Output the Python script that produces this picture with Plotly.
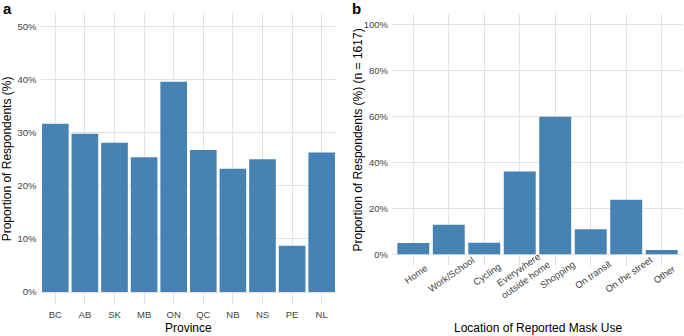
import plotly.graph_objects as go

provinces = ["BC", "AB", "SK", "MB", "ON", "QC", "NB", "NS", "PE", "NL"]
province_pct = [31.7, 29.8, 28.1, 25.4, 39.6, 26.75, 23.2, 25.0, 8.7, 26.3]

locations = ["Home", "Work/School", "Cycling", "Everywhere<br>outside home",
             "Shopping", "On transit", "On the street", "Other"]
location_pct = [4.9, 12.9, 5.1, 36.1, 60.0, 10.9, 23.8, 1.9]

a_ticks = [0, 10, 20, 30, 40, 50]
a_ticktext = ["0%", "10%", "20%", "30%", "40%", "50%"]
b_ticks = [0, 20, 40, 60, 80, 100]
b_ticktext = ["0%", "20%", "40%", "60%", "80%", "100%"]

W, H = 684, 336
BAR = "#4682B4"
GRID = "#E3E3E3"
TICKC = "#444444"
FONT = "Liberation Sans, Arial, sans-serif"

fig = go.Figure()
fig.add_trace(go.Bar(x=provinces, y=province_pct, marker_color=BAR,
                     marker_line_width=0, xaxis="x", yaxis="y", showlegend=False))
fig.add_trace(go.Bar(x=list(range(len(locations))), y=location_pct, marker_color=BAR,
                     marker_line_width=0, xaxis="x2", yaxis="y2", showlegend=False))

ax_common = dict(showgrid=True, gridcolor=GRID, gridwidth=1, zeroline=False,
                 showline=False, ticks="", automargin=False,
                 tickfont=dict(size=9.5, color=TICKC, family=FONT))

def px(x):
    return x / W

def py(y):
    return 1 - y / H

fig.update_layout(
    width=W, height=H,
    margin=dict(l=0, r=0, t=0, b=0),
    paper_bgcolor="white", plot_bgcolor="white",
    bargap=0.1,
    font=dict(family=FONT, color="black"),
    xaxis=dict(domain=[px(40.5), px(336.5)], anchor="y", **ax_common,
               ticklabelstandoff=2),
    yaxis=dict(domain=[py(305.3), py(13.3)], anchor="x", range=[-2.5, 52.5],
               tickvals=a_ticks, ticktext=a_ticktext, ticklabelstandoff=3, **ax_common),
    xaxis2=dict(domain=[px(392), px(683)], anchor="y2", range=[-0.6, 7.6],
                tickvals=list(range(len(locations))), showticklabels=False, **ax_common),
    yaxis2=dict(domain=[py(265.8), py(13.5)], anchor="x2", range=[-5, 105],
                tickvals=b_ticks, ticktext=b_ticktext, ticklabelstandoff=3, **ax_common),
)

ann = []
# rotated category labels for panel b
for i, lab in enumerate(locations):
    ann.append(dict(x=i, y=py(274), xref="x2", yref="paper", text=lab,
                    showarrow=False, textangle=-35, xanchor="center", yanchor="middle",
                    xshift=2, font=dict(size=9.5, color=TICKC, family=FONT)))
# axis titles
ann += [
    dict(x=px(188.5), y=py(328), xref="paper", yref="paper", text="Province",
         showarrow=False, xanchor="center", yanchor="middle", font=dict(size=12)),
    dict(x=px(537.5), y=py(328), xref="paper", yref="paper",
         text="Location of Reported Mask Use",
         showarrow=False, xanchor="center", yanchor="middle", font=dict(size=12)),
    dict(x=px(7), y=py(159.3), xref="paper", yref="paper",
         text="Proportion of Respondents (%)", textangle=-90,
         showarrow=False, xanchor="center", yanchor="middle", font=dict(size=12)),
    dict(x=px(357), y=py(139.5), xref="paper", yref="paper",
         text="Proportion of Respondents (%) (n = 1617)", textangle=-90,
         showarrow=False, xanchor="center", yanchor="middle", font=dict(size=12)),
    dict(x=px(1), y=py(8), xref="paper", yref="paper", text="<b>a</b>",
         showarrow=False, xanchor="left", yanchor="middle", font=dict(size=15)),
    dict(x=px(350), y=py(8), xref="paper", yref="paper", text="<b>b</b>",
         showarrow=False, xanchor="left", yanchor="middle", font=dict(size=15)),
]
fig.update_layout(annotations=ann)

fig.write_html("out.html", config={"displayModeBar": False},
               post_script="document.body.style.margin='0px';document.body.style.padding='0px';")
